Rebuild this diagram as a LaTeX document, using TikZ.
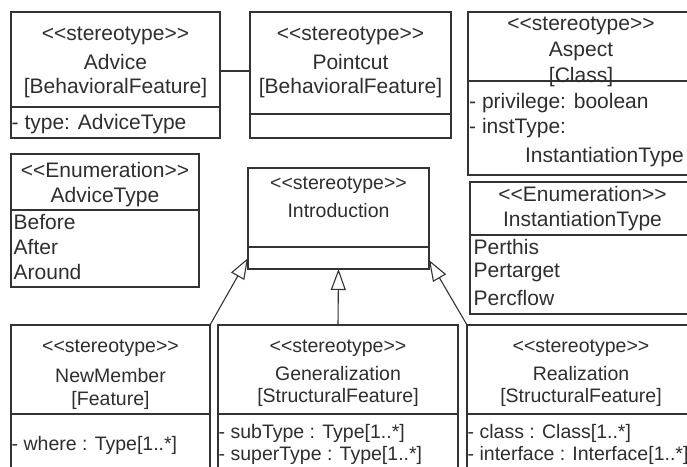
\documentclass[tikz,border=0pt]{standalone}
\usepackage{fontspec}
\newfontfamily\umlfont{Liberation Sans}
\usetikzlibrary{arrows.meta}
\definecolor{linec}{HTML}{333333}
\definecolor{textc}{HTML}{2E2E2E}
\newcommand\stL{<\kern0pt<}
\newcommand\stR{>\kern0pt>}
\tikzset{
  umlbox/.style={draw=linec, line width=1.3pt, rectangle, outer sep=0pt, inner sep=0pt, anchor=north west},
  divline/.style={draw=linec, line width=1.3pt},
  lab/.style={inner sep=0pt, text=textc, font=\umlfont\fontsize{21}{25}\selectfont},
  labs/.style={inner sep=0pt, text=textc, font=\umlfont\fontsize{19.5}{24}\selectfont},
  genarrow/.style={draw=linec, line width=1.1pt, -{Triangle[length=21pt,width=15pt,fill=white,line width=1.1pt]}},
  assoc/.style={draw=linec, line width=1.2pt},
}
\begin{document}
\begin{tikzpicture}[x=1pt,y=-1pt]
\useasboundingbox (0,0) rectangle (687,466);
\clip (0,0) rectangle (687,466);

% boxes
\node[umlbox, minimum width=209pt, minimum height=126pt] (advice) at (11,12) {};
\node[umlbox, minimum width=201pt, minimum height=126pt] (pointcut) at (250,12) {};
\node[umlbox, minimum width=226pt, minimum height=163pt] (aspect) at (468,12) {};
\node[umlbox, minimum width=188pt, minimum height=133pt] (advtype) at (11,154) {};
\node[umlbox, minimum width=181pt, minimum height=101pt] (intro) at (248,168) {};
\node[umlbox, minimum width=225pt, minimum height=132pt] (insttype) at (470,182) {};
\node[umlbox, minimum width=199pt, minimum height=160pt] (newmem) at (11,325) {};
\node[umlbox, minimum width=240pt, minimum height=160pt] (gener) at (218,325) {};
\node[umlbox, minimum width=228pt, minimum height=160pt] (realiz) at (467,325) {};

% dividers
\draw[divline] (advice.west |- 0,107) -- (advice.east |- 0,107);
\draw[divline] (pointcut.west |- 0,114) -- (pointcut.east |- 0,114);
\draw[divline] (aspect.west |- 0,81) -- (aspect.east |- 0,81);
\draw[divline] (advtype.west |- 0,210) -- (advtype.east |- 0,210);
\draw[divline] (intro.west |- 0,247) -- (intro.east |- 0,247);
\draw[divline] (insttype.west |- 0,235) -- (insttype.east |- 0,235);
\draw[divline] (newmem.west |- 0,414) -- (newmem.east |- 0,414);
\draw[divline] (gener.west |- 0,414) -- (gener.east |- 0,414);
\draw[divline] (realiz.west |- 0,414) -- (realiz.east |- 0,414);

% Advice
\node[lab] (advS) at (115.5,36) {\stL stereotype\stR};
\node[lab] (advN) at (115.5,62) {Advice};
\node[lab] (advK) at (115.5,88) {[BehavioralFeature]};
\node[lab, anchor=west] (advA) at (11.5,124) {- type: AdviceType};

% Pointcut
\node[lab] (pcS) at (350.5,36) {\stL stereotype\stR};
\node[lab] (pcN) at (350.5,62) {Pointcut};
\node[lab] (pcK) at (350.5,88) {[BehavioralFeature]};

% Aspect
\node[lab] (aspS) at (581,26) {\stL stereotype\stR};
\node[lab] (aspN) at (581,51) {Aspect};
\node[lab] (aspK) at (581,77) {[Class]};
\node[lab, anchor=west] (aspA1) at (469,103) {- privilege: boolean};
\node[lab, anchor=west] (aspA2) at (469,128) {- instType:};
\node[lab, anchor=east] (aspA3) at (684,157) {InstantiationType};

% AdviceType
\node[lab] (atS) at (105,170) {\stL Enumeration\stR};
\node[lab] (atN) at (105,197) {AdviceType};
\node[lab, anchor=west] (atL1) at (13.5,222) {Before};
\node[lab, anchor=west] (atL2) at (13.5,247) {After};
\node[lab, anchor=west] (atL3) at (13.5,272) {Around};

% InstantiationType
\node[lab] (itS) at (582.5,194) {\stL Enumeration\stR};
\node[lab] (itN) at (582.5,221) {InstantiationType};
\node[lab, anchor=west] (itL1) at (473.5,247) {Perthis};
\node[lab, anchor=west] (itL2) at (473.5,272) {Pertarget};
\node[lab, anchor=west] (itL3) at (473.5,298) {Percflow};

% Introduction
\node[labs] (inS) at (338.5,185) {\stL stereotype\stR};
\node[labs] (inN) at (338.5,211) {Introduction};

% NewMember
\node[labs] (nmS) at (110.5,348) {\stL stereotype\stR};
\node[labs] (nmN) at (110.5,376) {NewMember};
\node[labs] (nmK) at (110.5,400) {[Feature]};
\node[labs, anchor=west] (nmA) at (11.5,445) {- where : Type[1..*]};

% Generalization
\node[labs] (geS) at (338,348) {\stL stereotype\stR};
\node[labs] (geN) at (338,374) {Generalization};
\node[labs] (geK) at (338,397) {[StructuralFeature]};
\node[labs, anchor=west] (geA1) at (218.5,433) {- subType : Type[1..*]};
\node[labs, anchor=west] (geA2) at (218.5,455) {- superType : Type[1..*]};

% Realization
\node[labs] (reS) at (581,348) {\stL stereotype\stR};
\node[labs] (reN) at (581,374) {Realization};
\node[labs] (reK) at (581,397) {[StructuralFeature]};
\node[labs, anchor=west] (reA1) at (467.5,433) {- class : Class[1..*]};
\node[labs, anchor=west] (reA2) at (467.5,455) {- interface : Interface[1..*]};

% connectors
\draw[assoc] ([yshift=4pt]advice.east) -- ([yshift=4pt]pointcut.west);
\draw[genarrow] (newmem.north east) -- ([yshift=11pt]intro.south west);
\draw[genarrow] (gener.north) -- (intro.south);
\draw[genarrow] (realiz.north west) -- ([yshift=9pt]intro.south east);
\end{tikzpicture}
\end{document}
